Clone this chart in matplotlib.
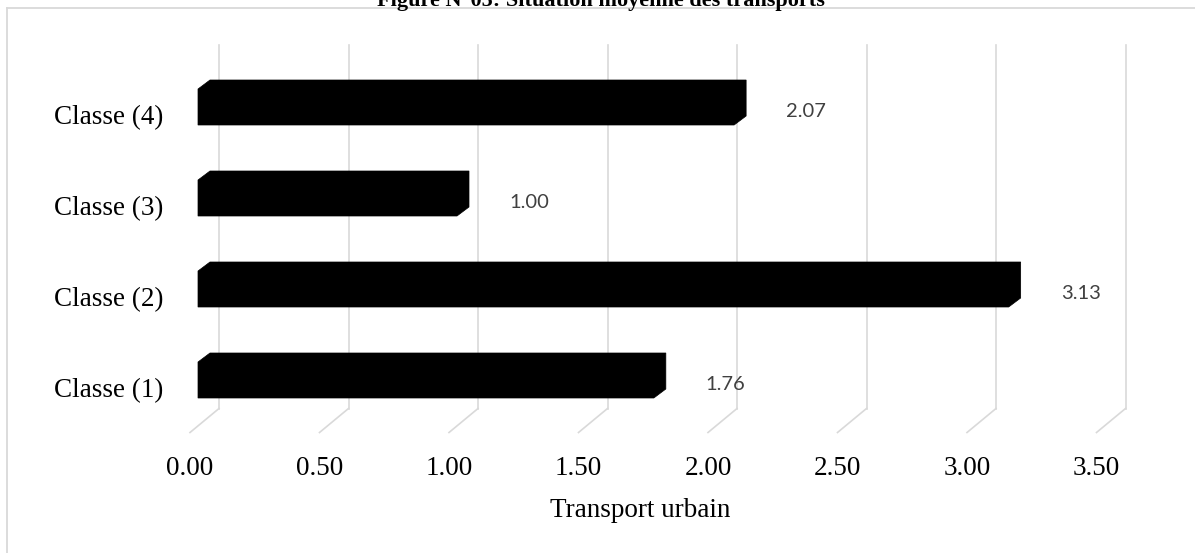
import numpy as np
import matplotlib
matplotlib.use("Agg")
import matplotlib.pyplot as plt
from matplotlib.patches import Polygon
from matplotlib.lines import Line2D

# data
categories = ["Classe (1)", "Classe (2)", "Classe (3)", "Classe (4)"]
values = [1.76, 3.13, 1.00, 2.07]
value_labels = ["1.76", "3.13", "1.00", "2.07"]
ticks = [0.00, 0.50, 1.00, 1.50, 2.00, 2.50, 3.00, 3.50]
tick_labels = ["0.00", "0.50", "1.00", "1.50", "2.00", "2.50", "3.00", "3.50"]
title = "Figure N°05: Situation moyenne des transports"
xlabel = "Transport urbain"

W, H, DPI = 1195, 553, 100
fig = plt.figure(figsize=(W / DPI, H / DPI), dpi=DPI)
fig.patch.set_facecolor("white")

# plot box in pixels (front face of bars)
px_unit = 259.0      # pixels per value unit
px_cat = 91.0        # pixels per category
left_px, top_px = 198, 61.5
xmax, ymin, ymax = 3.5, -0.5, 3.5
ax = fig.add_axes([left_px / W, (H - top_px - (ymax - ymin) * px_cat) / H,
                   xmax * px_unit / W, (ymax - ymin) * px_cat / H])
ax.set_xlim(0, xmax)
ax.set_ylim(ymin, ymax)
ax.axis("off")

# depth offsets (pixels -> data units)
def dx(p):
    return p / px_unit

def dy(p):
    return p / px_cat

grid_col = "#d9d9d9"
serif = "Liberation Serif"

# back wall gridlines + floor diagonals
for t in ticks:
    xb, yb = t + dx(21), ymin + dy(17)
    ax.plot([xb, xb], [yb, ymax + dy(17)], color=grid_col, lw=1.2,
            clip_on=False, zorder=1)
    ax.plot([xb, t + dx(-8)], [yb, ymin + dy(-7)], color=grid_col, lw=1.2,
            clip_on=False, zorder=1)

# 3D-ish bars (front face extruded backwards)
half = dy(18)
bdx, bdy = dx(12), dy(9)
for i, v in enumerate(values):
    y0, y1 = i - half, i + half
    pts = [(0, y0), (0, y1), (bdx, y1 + bdy), (v + bdx, y1 + bdy),
           (v + bdx, y0 + bdy), (v, y0)]
    ax.add_patch(Polygon(pts, closed=True, facecolor="black",
                         edgecolor="black", lw=0.5, zorder=3, clip_on=False))
    ax.annotate(value_labels[i], (v, i), xytext=(52, -10),
                textcoords="offset pixels", ha="left", va="baseline",
                fontsize=14.5, family="Lato", color="#404040",
                annotation_clip=False)
    ax.annotate(categories[i], (0, i), xytext=(-35, -17),
                textcoords="offset pixels", ha="right", va="baseline",
                fontsize=19.5, family=serif, color="black",
                annotation_clip=False)

# value axis tick labels on the front of the floor
for t, lab in zip(ticks, tick_labels):
    ax.annotate(lab, (t + dx(-8), ymin + dy(-7)), xytext=(0, -42.5),
                textcoords="offset pixels", ha="center", va="baseline",
                fontsize=19.5, family=serif, color="black",
                annotation_clip=False)

fig.text(640 / W, 1 - 517 / H, xlabel, ha="center", va="baseline",
         fontsize=19.5, family=serif)

# title, mostly cut off at the top
fig.text(601 / W, 1 - 6 / H, title, ha="center", va="baseline",
         fontsize=16, family=serif, fontweight="bold")

# chart area border (runs off the right and bottom edge)
fig.add_artist(Line2D([7 / W, 7 / W], [1 - 8 / H, -0.1], color=grid_col, lw=1.3))
fig.add_artist(Line2D([7 / W, 1.1], [1 - 8 / H, 1 - 8 / H], color=grid_col, lw=1.3))

fig.savefig("out.png", dpi=DPI, facecolor="white")
